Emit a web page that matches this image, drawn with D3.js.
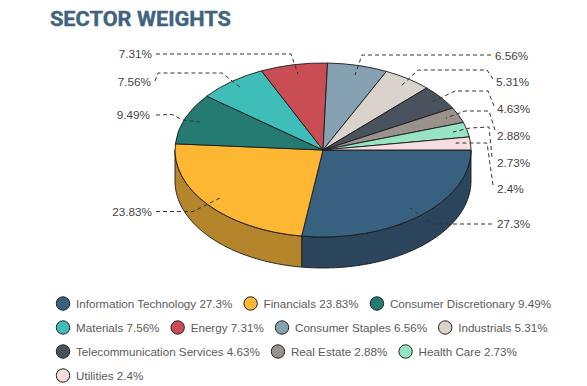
<!DOCTYPE html>
<html><head><meta charset="utf-8">
<script src="https://cdnjs.cloudflare.com/ajax/libs/d3/7.8.5/d3.min.js"></script>
<style>html,body{margin:0;padding:0;background:#fff;overflow:hidden}svg{display:block}</style>
</head><body><svg id="c" width="587" height="386"></svg>
<script>
const title = "SECTOR WEIGHTS";
const sectors = ["Information Technology","Financials","Consumer Discretionary","Materials","Energy","Consumer Staples","Industrials","Telecommunication Services","Real Estate","Health Care","Utilities"];
const weights = [27.3,23.83,9.49,7.56,7.31,6.56,5.31,4.63,2.88,2.73,2.4];
const topColors = ["#386180","#FDB733","#257A72","#3FBDB8","#C94D55","#86A2B2","#DAD3CB","#4A535D","#9A918C","#96E4C3","#F8DDE0"];
const sideColors = ["#2B465C","#B5852C"];
const legendRows = [3,4,3,1];

// label placement: text anchor point and the dashed leader's elbows
const labelLayout = [
 {x:497,y:224,a:"start",path:[[492,224],[432,224]],inner:[410,208]},
 {x:152,y:211.5,a:"end",path:[[156,211.5],[193,211.5]],inner:[220,198]},
 {x:150,y:115,a:"end",path:[[156,115],[172,114.5],[183,120]],inner:[200,122]},
 {x:151,y:82,a:"end",path:[[155,81],[158,73],[222,73]],inner:[241,88]},
 {x:152,y:54,a:"end",path:[[156,54],[291,54]],inner:[298,74]},
 {x:495,y:55.5,a:"start",path:[[491,55],[362,55]],inner:[355,75]},
 {x:496,y:82,a:"start",path:[[493,79],[487,70],[418,70]],inner:[400,87]},
 {x:497,y:109,a:"start",path:[[494,106],[488,91],[455,91]],inner:[430,103]},
 {x:497,y:136,a:"start",path:[[495,130],[489,111],[465,111]],inner:[446,118]},
 {x:497,y:162.5,a:"start",path:[[492,157],[489,127],[470,128]],inner:[453,132]},
 {x:497,y:189,a:"start",path:[[493,185],[487,143],[456,143]],inner:[456,145]}
];

const svg = d3.select("#c");
const cx = 323, cy = 150, rx = 148, ry = 87, depth = 31;
const textFont = "'Liberation Sans',Arial,sans-serif";

svg.append("text").text(title).attr("x",50).attr("y",25.5)
  .attr("font-family","Roboto,sans-serif").attr("font-weight",700)
  .attr("font-size",20.5).attr("fill","#3F6480").attr("stroke","#3F6480").attr("stroke-width",0.4)
  .attr("textLength",181).attr("lengthAdjust","spacingAndGlyphs");

const pie = d3.pie().sort(null).startAngle(Math.PI/2).endAngle(Math.PI/2+2*Math.PI);
const arcs = pie(weights);
const sy = ry/rx;
const px = a => cx + rx*Math.sin(a);
const py = a => cy - ry*Math.cos(a);

// side walls (only the front half, angle PI/2..3PI/2 in d3's convention)
const wall = d3.path;
arcs.forEach((d,i)=>{
  const a0 = Math.max(d.startAngle, Math.PI/2), a1 = Math.min(d.endAngle, 3*Math.PI/2);
  if (a1 <= a0) return;
  const p = wall();
  p.moveTo(px(a0), py(a0));
  const n = 60;
  for (let k=1;k<=n;k++){ const a=a0+(a1-a0)*k/n; p.lineTo(px(a),py(a)); }
  for (let k=n;k>=0;k--){ const a=a0+(a1-a0)*k/n; p.lineTo(px(a),py(a)+depth); }
  p.closePath();
  svg.append("path").attr("d",p.toString()).attr("fill",sideColors[i]||topColors[i])
     .attr("stroke","#1a1a1a").attr("stroke-width",0.9).attr("stroke-linejoin","round");
});

// top face
const arcGen = d3.arc().innerRadius(0).outerRadius(rx);
svg.append("g").attr("transform",`translate(${cx},${cy}) scale(1,${sy})`)
  .selectAll("path").data(arcs).join("path")
  .attr("d",arcGen).attr("fill",(d,i)=>topColors[i])
  .attr("stroke","#1a1a1a").attr("stroke-width",0.9).attr("stroke-linejoin","round")
  .attr("vector-effect","non-scaling-stroke");

// leaders
const line = d3.line();
labelLayout.forEach(l=>{
  svg.append("path").attr("d",line([...l.path,l.inner])).attr("fill","none")
    .attr("stroke","#333").attr("stroke-width",1).attr("stroke-dasharray","4,3");
});

// value labels
svg.append("g").selectAll("text").data(weights).join("text")
  .text(d=>d+"%")
  .attr("x",(d,i)=>labelLayout[i].x).attr("y",(d,i)=>labelLayout[i].y)
  .attr("dy","0.35em").attr("text-anchor",(d,i)=>labelLayout[i].a)
  .attr("font-family",textFont).attr("font-size",11.7).attr("fill","#444");

// legend
const legend = svg.append("g");
let idx = 0;
legendRows.forEach((count,row)=>{
  let x = 63;
  const y = 303.5 + row*24;
  for (let k=0;k<count;k++,idx++){
    legend.append("circle").attr("cx",x).attr("cy",y).attr("r",6.7)
      .attr("fill",topColors[idx]).attr("stroke","#222").attr("stroke-width",1);
    const t = legend.append("text").text(`${sectors[idx]} ${weights[idx]}%`)
      .attr("x",x+13).attr("y",y).attr("dy","0.35em")
      .attr("font-family",textFont).attr("font-size",11.65).attr("fill","#5a5a5a");
    x += 13 + t.node().getComputedTextLength() + 18.2;
  }
});
</script></body></html>
